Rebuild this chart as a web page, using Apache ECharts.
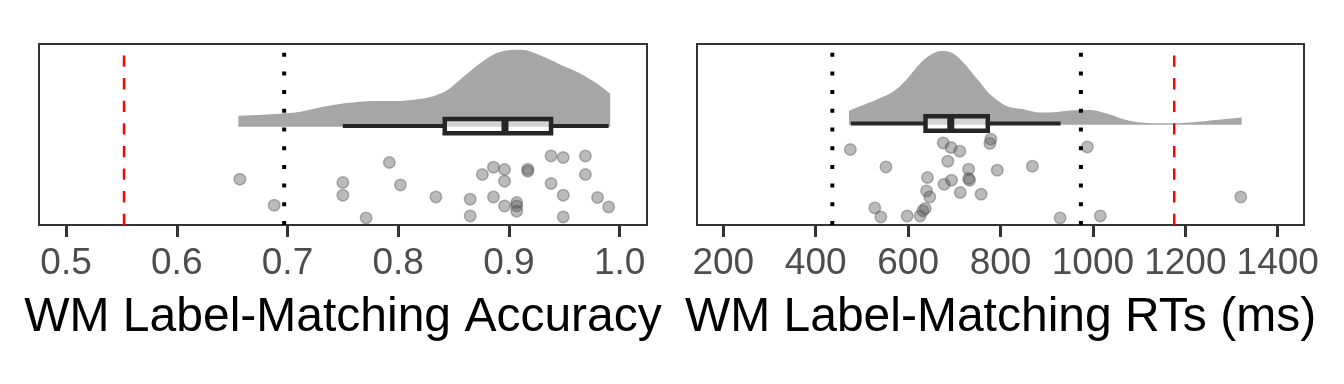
<!DOCTYPE html>
<html>
<head>
<meta charset="utf-8">
<script src="https://cdn.jsdelivr.net/npm/echarts@6/dist/echarts.min.js"></script>
<style>
html,body{margin:0;padding:0;background:#fff;}
#chart{width:1344px;height:384px;}
</style>
</head>
<body>
<div id="chart"></div>
<script>
// ---------- DATA ----------
const accTitle = 'WM Label-Matching Accuracy';
const rtTitle = 'WM Label-Matching RTs (ms)';

const accTicks = [0.5, 0.6, 0.7, 0.8, 0.9, 1.0];
const accTickLabels = ['0.5', '0.6', '0.7', '0.8', '0.9', '1.0'];
const rtTicks = [200, 400, 600, 800, 1000, 1200, 1400];
const rtTickLabels = ['200', '400', '600', '800', '1000', '1200', '1400'];

// individual participants: [value, vertical jitter]
const accPoints = [
  [0.657, -0.525], [0.688, -0.785], [0.750, -0.558], [0.750, -0.685], [0.771, -0.912],
  [0.792, -0.358], [0.802, -0.582], [0.834, -0.702], [0.865, -0.725], [0.865, -0.892],
  [0.876, -0.478], [0.886, -0.405], [0.886, -0.702], [0.896, -0.428], [0.896, -0.545],
  [0.896, -0.792], [0.907, -0.758], [0.907, -0.792], [0.907, -0.845], [0.917, -0.425],
  [0.917, -0.445], [0.938, -0.292], [0.938, -0.568], [0.949, -0.308], [0.949, -0.685],
  [0.949, -0.902], [0.969, -0.292], [0.969, -0.478], [0.980, -0.708], [0.990, -0.802]
];
const rtPoints = [
  [475, -0.248], [552, -0.422], [528, -0.832], [541, -0.922], [598, -0.912],
  [626, -0.912], [637, -0.838], [632, -0.860], [642, -0.528], [640, -0.662],
  [647, -0.722], [676, -0.182], [693, -0.228], [712, -0.265], [686, -0.365],
  [678, -0.595], [694, -0.555], [731, -0.445], [731, -0.538], [733, -0.555],
  [713, -0.678], [758, -0.695], [779, -0.145], [777, -0.188], [793, -0.455],
  [869, -0.415], [929, -0.932], [988, -0.222], [1016, -0.912], [1320, -0.722]
];

// half-violin density profiles: [value, density height]
const accDensity = [
  [0.6556, 0.110], [0.6782, 0.120], [0.7084, 0.144], [0.7234, 0.178], [0.7385, 0.211],
  [0.7536, 0.236], [0.7686, 0.252], [0.7837, 0.256], [0.7987, 0.256], [0.8137, 0.269],
  [0.8288, 0.296], [0.8439, 0.363], [0.8589, 0.499], [0.8740, 0.635], [0.8891, 0.736],
  [0.9041, 0.770], [0.9117, 0.770], [0.9192, 0.753], [0.9342, 0.685], [0.9492, 0.607],
  [0.9643, 0.533], [0.9794, 0.431], [0.9914, 0.330]
];
const rtDensity = [
  [472, 0.138], [489, 0.172], [525, 0.238], [561, 0.312], [579, 0.372],
  [597, 0.455], [615, 0.555], [633, 0.645], [651, 0.705], [669, 0.738],
  [687, 0.732], [705, 0.688], [723, 0.605], [741, 0.505], [759, 0.405],
  [777, 0.305], [813, 0.188], [849, 0.155], [886, 0.122], [922, 0.128],
  [958, 0.145], [994, 0.148], [1030, 0.112], [1066, 0.055], [1102, 0.022],
  [1138, 0.015], [1174, 0.015], [1210, 0.022], [1246, 0.038], [1282, 0.055],
  [1322, 0.072]
];

// boxplots: [lower whisker, Q1, median, Q3, upper whisker]
const accBox = [0.750, 0.842, 0.8964, 0.938, 0.990];
const rtBox = [476, 637.7, 692.4, 772.5, 930];

// reference lines
const accRedLines = [0.5524];
const accDottedLines = [0.697];
const rtRedLines = [1176];
const rtDottedLines = [436, 974];

// ---------- STYLE / LAYOUT ----------
const FONT = '"Liberation Sans", Arial, Helvetica, sans-serif';
const DARK = '#262626';
const BOX_HALF = 0.072;

const panels = [
  { left: 39, width: 608, xMin: 0.4756, xMax: 1.02465, yMin: -0.983, yMax: 0.827, boxY: 0.006,
    ticks: accTicks, labels: accTickLabels, title: accTitle,
    points: accPoints, density: accDensity, box: accBox, red: accRedLines, dotted: accDottedLines },
  { left: 697, width: 607, xMin: 143.1, xMax: 1456.9, yMin: -1.003, yMax: 0.807, boxY: 0.012,
    ticks: rtTicks, labels: rtTickLabels, title: rtTitle,
    points: rtPoints, density: rtDensity, box: rtBox, red: rtRedLines, dotted: rtDottedLines }
];

const grid = [], xAxis = [], yAxis = [], series = [];
panels.forEach((p, i) => {
  grid.push({ left: p.left, width: p.width, top: 44, height: 181, show: true,
    borderColor: '#333333', borderWidth: 2, backgroundColor: 'transparent' });
  xAxis.push({
    type: 'value', gridIndex: i, min: p.xMin, max: p.xMax, position: 'bottom',
    axisLine: { show: false, onZero: false }, splitLine: { show: false },
    axisTick: { show: true, customValues: p.ticks, length: 12, lineStyle: { color: '#333333', width: 3 } },
    axisLabel: { customValues: p.ticks, fontSize: 37, color: '#4D4D4D', margin: 20, fontFamily: FONT,
      formatter: v => { let k = 0; p.ticks.forEach((t, j) => { if (Math.abs(t - v) < Math.abs(p.ticks[k] - v)) k = j; }); return p.labels[k]; } },
    name: p.title, nameLocation: 'middle', nameGap: 69,
    nameTextStyle: { fontSize: 48, color: '#000000', fontFamily: FONT }
  });
  yAxis.push({ type: 'value', gridIndex: i, min: p.yMin, max: p.yMax, show: false });

  // half violin
  series.push({
    type: 'line', xAxisIndex: i, yAxisIndex: i, data: p.density, symbol: 'none',
    smooth: 0.3, lineStyle: { width: 0 },
    areaStyle: { color: '#A6A6A6', opacity: 1 }, z: 1, silent: true
  });
  // boxplot
  series.push({
    type: 'custom', xAxisIndex: i, yAxisIndex: i, data: [p.box], clip: false, z: 2,
    encode: { x: [0, 1, 2, 3, 4] },
    renderItem: (params, api) => {
      const lo = api.value(0), q1 = api.value(1), md = api.value(2), q3 = api.value(3), hi = api.value(4);
      const yc = p.boxY;
      const a = api.coord([lo, yc]), b = api.coord([q1, yc]), c = api.coord([q3, yc]), d = api.coord([hi, yc]);
      const m = api.coord([md, yc]);
      const top = api.coord([q1, yc + BOX_HALF])[1], bot = api.coord([q1, yc - BOX_HALF])[1];
      return { type: 'group', children: [
        { type: 'line', shape: { x1: a[0], y1: a[1], x2: b[0], y2: b[1] }, style: { stroke: DARK, lineWidth: 4 } },
        { type: 'line', shape: { x1: c[0], y1: c[1], x2: d[0], y2: d[1] }, style: { stroke: DARK, lineWidth: 4 } },
        { type: 'rect', shape: { x: b[0], y: top, width: c[0] - b[0], height: bot - top },
          style: { fill: 'rgba(255,255,255,0.5)', stroke: DARK, lineWidth: 4.5 } },
        { type: 'line', shape: { x1: m[0], y1: top, x2: m[0], y2: bot }, style: { stroke: DARK, lineWidth: 7 } }
      ] };
    }
  });
  // points
  series.push({
    type: 'scatter', xAxisIndex: i, yAxisIndex: i, data: p.points, symbolSize: 11.5, z: 3,
    itemStyle: { color: 'rgba(85,85,85,0.5)', borderColor: 'rgba(60,60,60,0.45)', borderWidth: 1.5 }
  });
  // reference lines (drawn bottom -> top)
  p.dotted.forEach(v => series.push({
    type: 'line', xAxisIndex: i, yAxisIndex: i, data: [[v, p.yMin], [v, p.yMax]], symbol: 'none', z: 4,
    lineStyle: { color: '#000000', width: 4, type: [4, 14.7], cap: 'butt' }, silent: true
  }));
  p.red.forEach(v => series.push({
    type: 'line', xAxisIndex: i, yAxisIndex: i, data: [[v, p.yMin], [v, p.yMax]], symbol: 'none', z: 4,
    lineStyle: { color: '#FF0000', width: 2.5, type: [11.3, 11.3], cap: 'butt' }, silent: true
  }));
});

const chart = echarts.init(document.getElementById('chart'), null, { renderer: 'canvas' });
chart.setOption({ animation: false, backgroundColor: '#ffffff', grid, xAxis, yAxis, series });
</script>
</body>
</html>
